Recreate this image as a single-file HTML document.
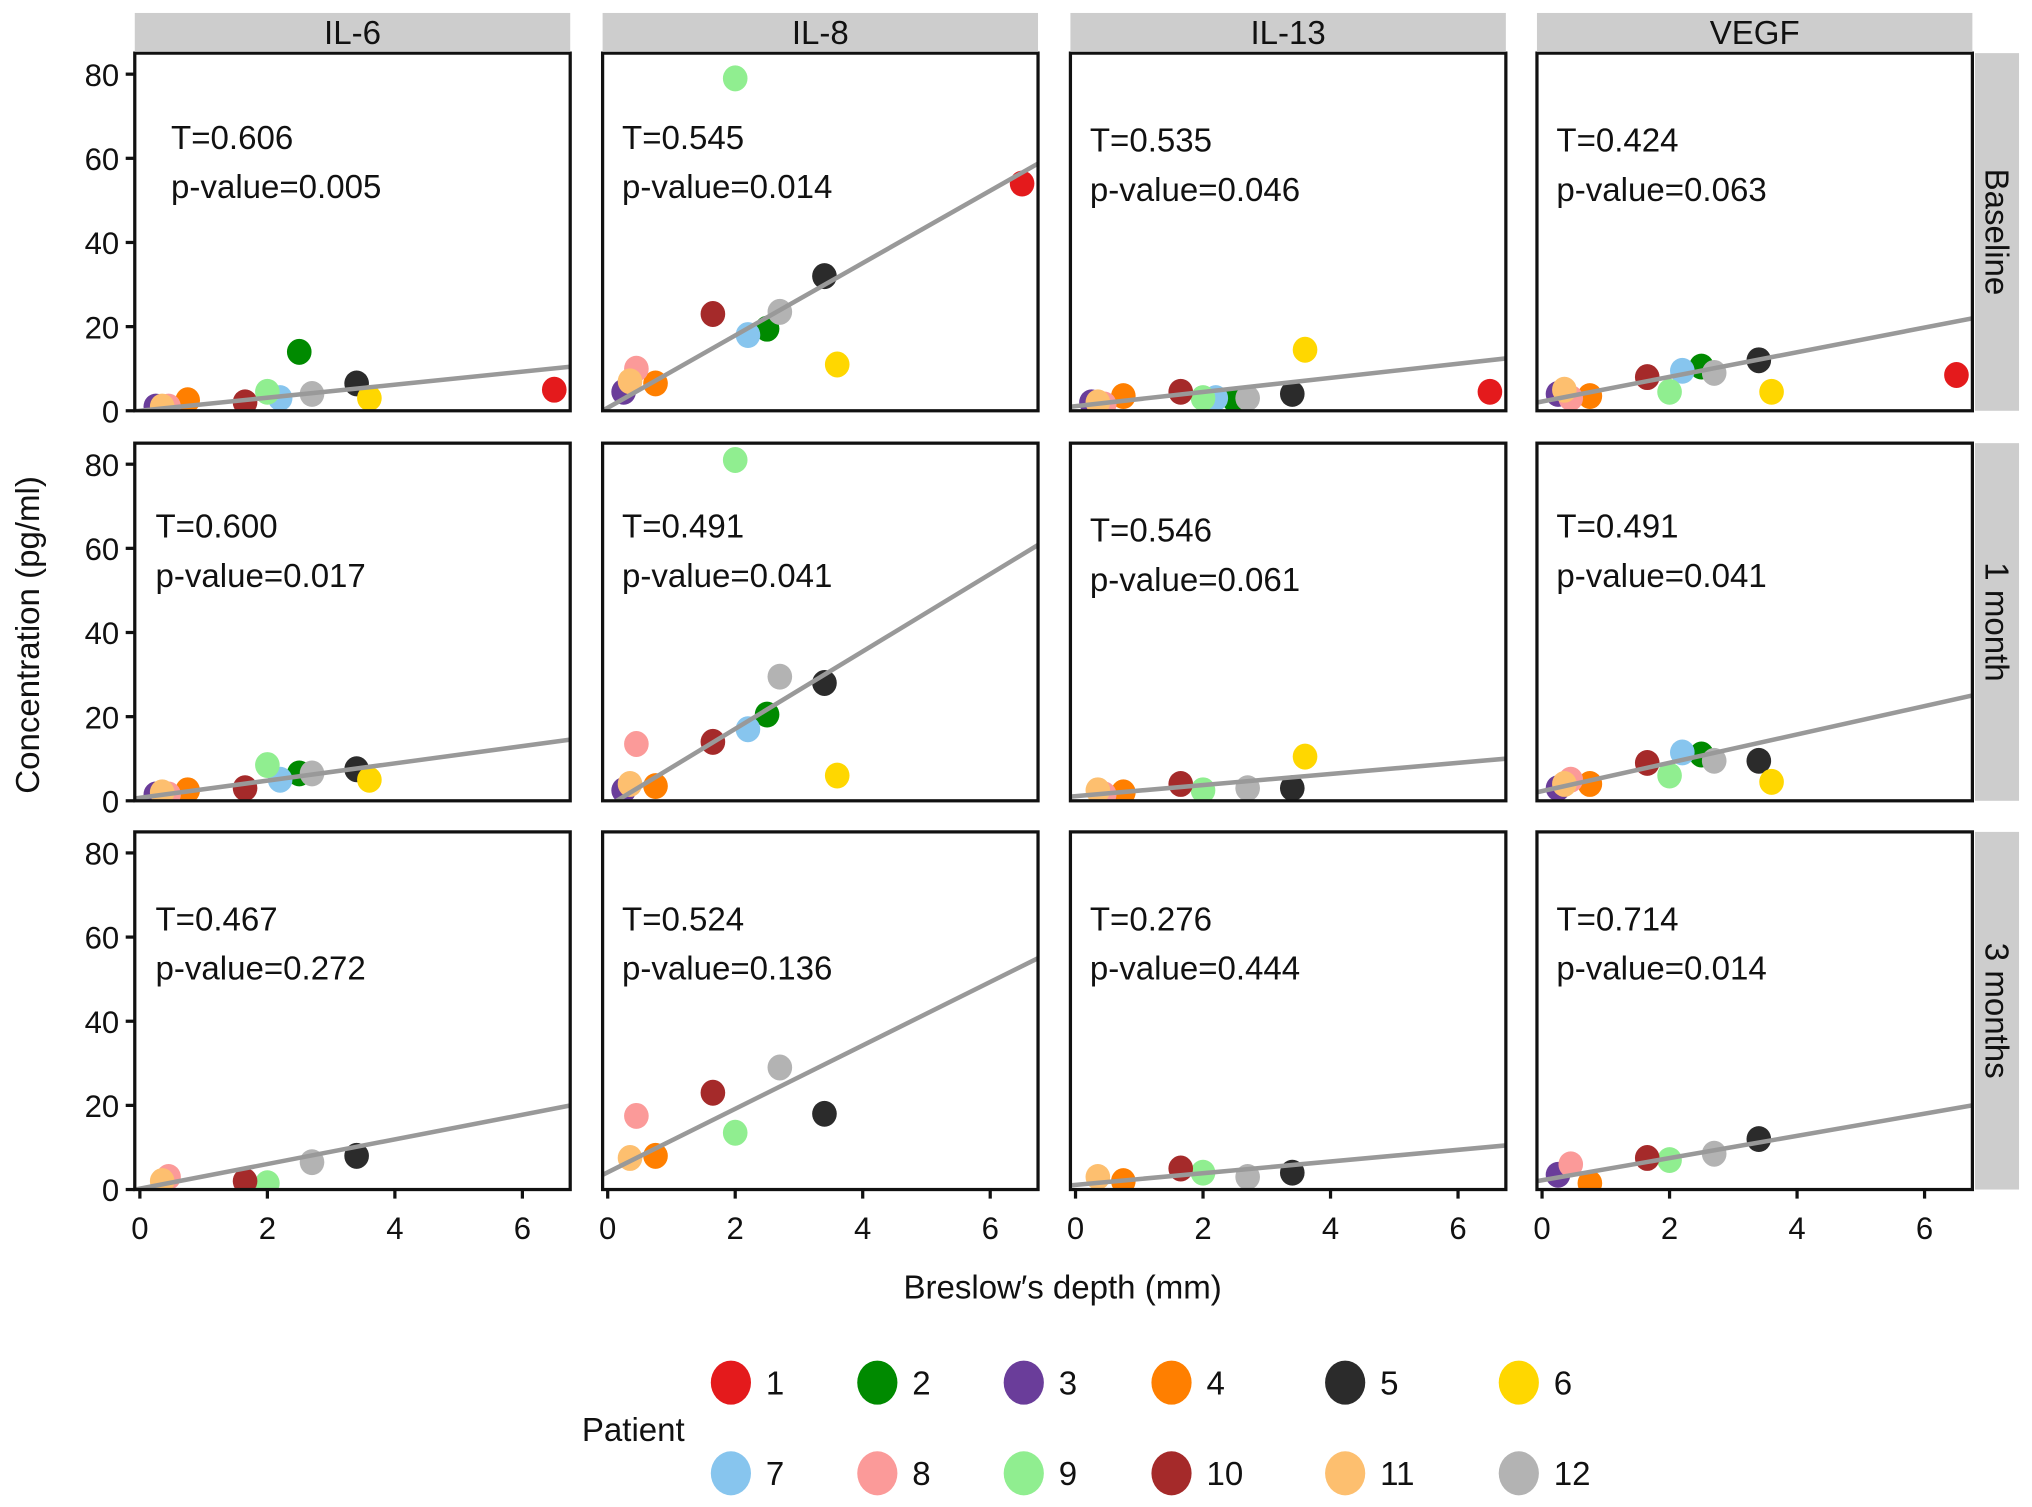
<!DOCTYPE html>
<html><head><meta charset="utf-8"><style>
html,body{margin:0;padding:0;background:#fff;}
svg{display:block;font-family:"Liberation Sans",Arial,sans-serif;}
</style></head><body>
<svg id="chart" width="2032" height="1507" viewBox="0 0 1568 1163" preserveAspectRatio="none" xmlns="http://www.w3.org/2000/svg">
</svg>
<script>
const markers = ["IL-6","IL-8","IL-13","VEGF"];
const timepoints = ["Baseline","1 month","3 months"];
const patients = [1,2,3,4,5,6,7,8,9,10,11,12];
const colors = ["#e41a1c","#008a00","#6a3d9a","#ff7f00","#2b2b2b","#ffd700","#87c5ee","#fb9a99","#90ee90","#a52a2a","#fdbf6f","#b3b3b3"];
const breslow = [6.5,2.5,0.25,0.75,3.4,3.6,2.2,0.45,2.0,1.65,0.35,2.7];
// values per patient (1..12), null = not measured
const baseIL6  = [5,14,1,2.5,6.5,3,3,1,4.5,2,1,4];
const baseIL8  = [54,19.5,4.5,6.5,32,11,18,10,79,23,7,23.5];
const baseIL13 = [4.5,2.5,2,3.5,4,14.5,3,1.5,3,4.5,2,3];
const baseVEGF = [8.5,10.5,4,3.5,12,4.5,9.5,3,4.5,8,5,9];
const m1IL6  = [null,6.5,1.5,2.5,7.5,5,5,1.5,8.5,3,2,6.5];
const m1IL8  = [null,20.5,2.5,3.5,28,6,17,13.5,81,14,4,29.5];
const m1IL13 = [null,null,null,2,3,10.5,null,1.5,2.5,4,2.5,3];
const m1VEGF = [null,11,3,4,9.5,4.5,11.5,5,6,9,4,9.5];
const m3IL6  = [null,null,null,null,8,null,null,3,1.5,2,2,6.5];
const m3IL8  = [null,null,null,8,18,null,null,17.5,13.5,23,7.5,29];
const m3IL13 = [null,null,null,2,4,null,null,null,4,5,3,3];
const m3VEGF = [null,null,3.5,1.5,12,null,null,6,7,7.5,null,8.5];
const tauVals = ["0.606","0.545","0.535","0.424","0.600","0.491","0.546","0.491","0.467","0.524","0.276","0.714"];
const pVals   = ["0.005","0.014","0.046","0.063","0.017","0.041","0.061","0.041","0.272","0.136","0.444","0.014"];
const intercepts = [0,0.7,1.1,2.2, 0.7,-1.3,1.1,2.3, 0.2,4.1,1.1,2.2];
const slopes     = [1.55,8.6,1.68,2.93, 2.05,9.2,1.32,3.37, 2.93,7.54,1.39,2.64];
const yTicks = [0,20,40,60,80];
const xTicks = [0,2,4,6];

const panelData = [baseIL6,baseIL8,baseIL13,baseVEGF,m1IL6,m1IL8,m1IL13,m1VEGF,m3IL6,m3IL8,m3IL13,m3VEGF];
const svg = document.getElementById('chart');
const NS = "http://www.w3.org/2000/svg";
function mk(tag, attrs, parent){const e=document.createElementNS(NS,tag);for(const k in attrs)e.setAttribute(k,attrs[k]);(parent||svg).appendChild(e);return e;}

const colX0=[104,465,826,1186], pw=336, rowY0=[41,342,642], ph=276;
const xMin=-0.08, xMax=6.75, yMin=0, yMax=85;
function sx(c,v){return colX0[c]+(v-xMin)/(xMax-xMin)*pw;}
function sy(r,v){return rowY0[r]+ph-(v-yMin)/(yMax-yMin)*ph;}

for(let r=0;r<3;r++){
  for(let c=0;c<4;c++){
    const i=r*4+c;
    const g=mk('g',{});
    
    
    const cp=mk('clipPath',{id:'cp'+i},g);
    mk('rect',{x:colX0[c],y:rowY0[r],width:pw,height:ph},cp);
    const vals=panelData[i];
    for(let p=0;p<12;p++){
      if(vals[p]===null)continue;
      const pt=mk('ellipse',{cx:sx(c,breslow[p]),cy:sy(r,vals[p]),rx:9.5,ry:10,fill:colors[p],'clip-path':'url(#cp'+i+')'},g);
      
      
    }
    const ln=mk('line',{x1:sx(c,xMin),y1:sy(r,intercepts[i]+slopes[i]*xMin),x2:sx(c,xMax),y2:sy(r,intercepts[i]+slopes[i]*xMax),stroke:'#999',
      'stroke-width':3.5,'clip-path':'url(#cp'+i+')'},g);
    
    
    const bd=mk('rect',{x:colX0[c],y:rowY0[r],width:pw,height:ph,fill:'none',stroke:'#111','stroke-width':2.5},g);
    
    
    const tx = c===0 ? (r===0?132:120) : colX0[c]+15;
    const ty = r===0 ? (c>=2?108:106) : (r===1?(c===2?409:406):709);
    const t1=mk('text',{x:tx,y:ty+9,'font-size':25.5,fill:'#111'},g); t1.textContent='T='+tauVals[i];
    
    
    const t2=mk('text',{x:tx,y:ty+47,'font-size':25.5,fill:'#111'},g); t2.textContent='p-value='+pVals[i];
    
    
  }
}
// column strips
for(let c=0;c<4;c++){
  const s=mk('rect',{x:colX0[c],y:10,width:pw,height:30,fill:'#cdcdcd'});
  
  
  const t=mk('text',{x:colX0[c]+pw/2,y:34,'font-size':25.5,'text-anchor':'middle',fill:'#111'}); t.textContent=markers[c];
  
  
}
for(let r=0;r<3;r++){
  const s=mk('rect',{x:1524,y:rowY0[r],width:34,height:ph,fill:'#cdcdcd'});
  
  
  const cy=rowY0[r]+ph/2;
  const t=mk('text',{x:1532,y:cy,'font-size':25.5,'text-anchor':'middle',fill:'#111',transform:'rotate(90 1532 '+cy+')'}); t.textContent=timepoints[r];
  
  
}
// y axes
for(let r=0;r<3;r++){
  for(const v of yTicks){
    const y=sy(r,v);
    mk('line',{x1:97,y1:y,x2:104,y2:y,stroke:'#111','stroke-width':2.5});
    const t=mk('text',{x:92,y:y+9,'font-size':24,'text-anchor':'end',fill:'#111'}); t.textContent=v;
    
    
  }
}
// x axes
for(let c=0;c<4;c++){
  for(const v of xTicks){
    const x=sx(c,v);
    mk('line',{x1:x,y1:917,x2:x,y2:925,stroke:'#111','stroke-width':2.5});
    const t=mk('text',{x:x,y:956,'font-size':24,'text-anchor':'middle',fill:'#111'}); t.textContent=v;
    
    
  }
}
const xt=mk('text',{x:820,y:1002,'font-size':25.5,'text-anchor':'middle',fill:'#111'}); xt.textContent='Breslow\u2032s depth (mm)';


const yt=mk('text',{x:30,y:490,'font-size':25.5,'text-anchor':'middle',fill:'#111',transform:'rotate(-90 30 490)'}); yt.textContent='Concentration (pg/ml)';


// legend
const lg=mk('g',{});


const lt=mk('text',{x:449,y:1112,'font-size':25.5,fill:'#111'},lg); lt.textContent='Patient';


const legX=[564,677,790,904,1038,1172];
for(let p=0;p<12;p++){
  const row=Math.floor(p/6), col=p%6;
  const cx=legX[col], cy=row===0?1067:1137;
  const e=mk('g',{},lg);
  
  
  mk('ellipse',{cx:cx,cy:cy,rx:15.5,ry:17,fill:colors[p]},e);
  const t=mk('text',{x:cx+27,y:cy+9,'font-size':25.5,fill:'#111'},e); t.textContent=patients[p];
}
</script>
</body></html>
